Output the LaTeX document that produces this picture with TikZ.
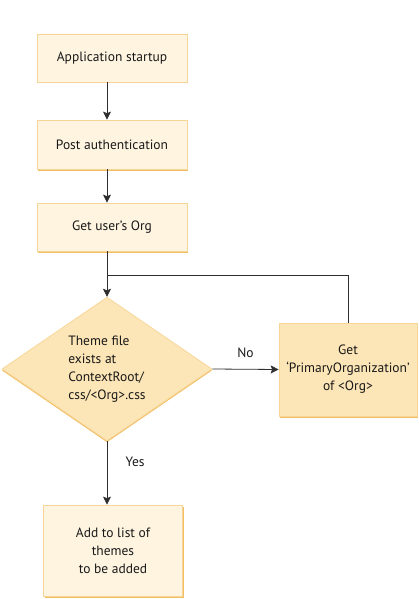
\documentclass[tikz,border=0pt]{standalone}
\usepackage{fontspec}
\setmainfont{PT Sans}
\usetikzlibrary{arrows.meta}
\usetikzlibrary{shapes.geometric,shadows}
\definecolor{boxfill}{HTML}{FEF4E0}
\definecolor{boxline}{HTML}{F7D596}
\definecolor{boxshade}{HTML}{F2BE62}
\definecolor{boxdark}{HTML}{FCE5B6}
\definecolor{linegray}{HTML}{2E2E2E}
\tikzset{
    stepbox/.style={draw=boxline, fill=boxfill, line width=0.7pt, rectangle, inner sep=0pt,
        drop shadow={shadow xshift=1.3pt, shadow yshift=-1.5pt, fill=boxshade, opacity=1},
        font=\fontsize{13.5}{18}\selectfont, text=black!90},
    darkbox/.style={stepbox, fill=boxdark},
    decision/.style={draw=boxline, fill=boxdark, line width=0.7pt, diamond, inner sep=0pt,
        drop shadow={shadow xshift=0pt, shadow yshift=-1.5pt, fill=boxshade, opacity=1},
        font=\fontsize{13.5}{18}\selectfont, text=black!90},
    arr/.style={-{Stealth[length=8pt,width=8pt,inset=1.5pt]}, draw=linegray, line width=0.8pt},
    plain/.style={draw=linegray, line width=0.8pt},
    lbl/.style={font=\fontsize{13.5}{16}\selectfont, text=black!90}
}
\begin{document}
\begin{tikzpicture}[x=1pt,y=-1pt]
        \useasboundingbox (0,0) rectangle (419,599);

        \node[stepbox, minimum width=150pt, minimum height=48pt] (app) at (112,58) {Application startup};
        \node[stepbox, minimum width=150pt, minimum height=49pt] (post) at (112,144.5) {Post authentication};
        \node[stepbox, minimum width=150pt, minimum height=48pt] (org) at (112,227) {Get user's Org};

        \node[decision, minimum width=210pt, minimum height=143pt, align=left] (theme) at (107,369) {Theme file\\exists at\\ContextRoot/\\css/<Org>.css};
        \node[darkbox, minimum width=138pt, minimum height=93pt, align=center] (primary) at (348,369.5) {Get\\`PrimaryOrganization'\\of <Org>};
        \node[stepbox, minimum width=139pt, minimum height=91pt, align=center] (add) at (113,550.5) {Add to list of\\themes\\to be added};

        \coordinate (join) at (107,275);

        \draw[arr] (app.south -| theme.north) -- (post.north -| theme.north);
        \draw[arr] (post.south -| theme.north) -- (org.north -| theme.north);
        \draw[arr] (org.south -| theme.north) -- (theme.north);
        \draw[plain] (primary.north) |- (join);
        \draw[arr] (theme.east) -- node[above=8pt, lbl] {No} (primary.west);
        \draw[arr] (theme.south) -- node[right=15pt, pos=0.33, lbl] {Yes} (add.north -| theme.south);

    \end{tikzpicture}
\end{document}
